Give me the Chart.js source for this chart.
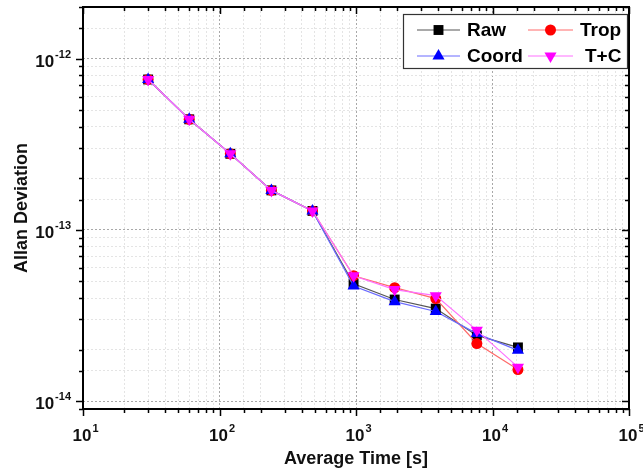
<!DOCTYPE html>
<html>
<head>
<meta charset="utf-8">
<script src="https://cdn.jsdelivr.net/npm/chart.js@4/dist/chart.umd.min.js"></script>
<style>
html, body { margin: 0; padding: 0; background: #fff; }
#wrap { width: 643px; height: 470px; }
</style>
</head>
<body>
<div id="wrap"><canvas id="myChart"></canvas></div>
<script>
// averaging times [s]
const avgTime = [30, 60, 120, 240, 480, 960, 1920, 3840, 7680, 15360];

// Allan deviation per solution
const rawDev   = [7.55e-13, 4.42e-13, 2.78e-13, 1.70e-13, 1.29e-13, 4.85e-14, 3.92e-14, 3.47e-14, 2.42e-14, 2.06e-14];
const tropDev  = [7.55e-13, 4.42e-13, 2.78e-13, 1.70e-13, 1.29e-13, 5.40e-14, 4.60e-14, 3.97e-14, 2.17e-14, 1.53e-14];
const coordDev = [7.55e-13, 4.42e-13, 2.78e-13, 1.70e-13, 1.29e-13, 4.70e-14, 3.81e-14, 3.34e-14, 2.48e-14, 1.98e-14];
const tcDev    = [7.55e-13, 4.42e-13, 2.78e-13, 1.70e-13, 1.29e-13, 5.40e-14, 4.48e-14, 4.13e-14, 2.59e-14, 1.58e-14];

const seriesNames = ['Raw', 'Trop', 'Coord', 'T+C'];

// decade tick labels
const xDecades = [1e1, 1e2, 1e3, 1e4, 1e5];
const yDecades = [1e-14, 1e-13, 1e-12];

const FONT = "'Liberation Sans', Arial, sans-serif";

function toPoints(vals) {
    return avgTime.map((t, i) => ({x: t, y: vals[i]}));
}

function isDecade(v) {
    const l = Math.log10(v);
    return Math.abs(l - Math.round(l)) < 1e-6;
}

function expOf(v) {
    return String(Math.round(Math.log10(v)));
}

// draws a marker like the dataset points (used for the legend)
function drawMarker(ctx, style, x, y, r, rot, color) {
    ctx.save();
    ctx.fillStyle = color;
    ctx.translate(x, y);
    ctx.rotate(rot * Math.PI / 180);
    ctx.beginPath();
    if (style === 'rect') {
        const s = r * Math.SQRT1_2;
        ctx.rect(-s, -s, 2 * s, 2 * s);
    } else if (style === 'circle') {
        ctx.arc(0, 0, r, 0, Math.PI * 2);
    } else {
        ctx.moveTo(0, -r);
        ctx.lineTo(r * 0.866, r * 0.5);
        ctx.lineTo(-r * 0.866, r * 0.5);
        ctx.closePath();
    }
    ctx.fill();
    ctx.restore();
}

const framePlugin = {
    id: 'frame',
    afterDraw(chart) {
        const ctx = chart.ctx;
        const a = chart.chartArea;
        const xs = chart.scales.x;
        const ys = chart.scales.y;
        ctx.save();

        // ticks: outside on left/bottom, inside on top/right
        ctx.strokeStyle = '#000';
        ctx.lineWidth = 1.5;
        ctx.beginPath();
        xs.ticks.forEach(t => {
            const px = Math.round(xs.getPixelForValue(t.value)) + 0.5;
            const len = isDecade(t.value) ? 7 : 4;
            ctx.moveTo(px, a.bottom); ctx.lineTo(px, a.bottom + len);
            ctx.moveTo(px, a.top); ctx.lineTo(px, a.top + len);
        });
        ys.ticks.forEach(t => {
            const py = Math.round(ys.getPixelForValue(t.value)) + 0.5;
            const len = isDecade(t.value) ? 7 : 4;
            ctx.moveTo(a.left, py); ctx.lineTo(a.left - len, py);
            ctx.moveTo(a.right, py); ctx.lineTo(a.right - len, py);
        });
        ctx.stroke();

        // frame
        ctx.lineWidth = 2;
        ctx.strokeRect(a.left, a.top, a.right - a.left, a.bottom - a.top);

        // tick labels with superscript exponents
        ctx.fillStyle = '#111';
        ctx.textBaseline = 'alphabetic';
        const big = 'bold 17px ' + FONT;
        const small = 'bold 11px ' + FONT;
        xDecades.forEach(v => {
            const px = xs.getPixelForValue(v);
            ctx.font = big;
            const w1 = ctx.measureText('10').width;
            ctx.font = small;
            const w2 = ctx.measureText(expOf(v)).width;
            const x0 = px - (w1 + w2) / 2 + 2;
            ctx.font = big;
            ctx.fillText('10', x0, 441);
            ctx.font = small;
            ctx.fillText(expOf(v), x0 + w1 + 1, 432);
        });
        yDecades.forEach(v => {
            const py = ys.getPixelForValue(v);
            ctx.font = small;
            const w2 = ctx.measureText(expOf(v)).width;
            ctx.font = big;
            const w1 = ctx.measureText('10').width;
            const xr = 71;
            ctx.fillText('10', xr - w2 - w1 - 1, py + 8);
            ctx.font = small;
            ctx.fillText(expOf(v), xr - w2, py - 1);
        });

        // legend box
        const lx = 403, ly = 14, lw = 224, lh = 54;
        ctx.fillStyle = '#fff';
        ctx.fillRect(lx, ly, lw, lh);
        ctx.strokeStyle = '#333';
        ctx.lineWidth = 1.2;
        ctx.strokeRect(lx + 0.5, ly + 0.5, lw, lh);

        const slots = [
            {x1: 417, x2: 460, tx: 467, y: 30},
            {x1: 528, x2: 573, tx: 580, y: 30},
            {x1: 417, x2: 460, tx: 467, y: 56},
            {x1: 528, x2: 573, tx: 585, y: 56}
        ];
        chart.data.datasets.forEach((ds, i) => {
            const s = slots[i];
            ctx.strokeStyle = ds.borderColor;
            ctx.lineWidth = 1;
            ctx.beginPath();
            ctx.moveTo(s.x1, s.y); ctx.lineTo(s.x2, s.y);
            ctx.stroke();
            drawMarker(ctx, ds.pointStyle, (s.x1 + s.x2) / 2, s.y, ds.pointRadius, ds.pointRotation || 0, ds.pointBackgroundColor);
            ctx.fillStyle = '#000';
            ctx.font = 'bold 19px ' + FONT;
            ctx.textBaseline = 'middle';
            ctx.fillText(ds.label, s.tx, s.y + 1);
        });
        ctx.restore();
    }
};

const chart = new Chart(document.getElementById('myChart').getContext('2d'), {
    type: 'line',
    data: {
        datasets: [{
            label: seriesNames[0],
            data: toPoints(rawDev),
            borderColor: '#555555',
            pointBackgroundColor: '#000000',
            pointBorderColor: '#000000',
            pointStyle: 'rect',
            pointRadius: 7,
            order: 4
        }, {
            label: seriesNames[1],
            data: toPoints(tropDev),
            borderColor: '#ff6a6a',
            pointBackgroundColor: '#ff0000',
            pointBorderColor: '#ff0000',
            pointStyle: 'circle',
            pointRadius: 5.5,
            order: 3
        }, {
            label: seriesNames[2],
            data: toPoints(coordDev),
            borderColor: '#6a6aff',
            pointBackgroundColor: '#0000ff',
            pointBorderColor: '#0000ff',
            pointStyle: 'triangle',
            pointRadius: 7,
            order: 2
        }, {
            label: seriesNames[3],
            data: toPoints(tcDev),
            borderColor: '#ff70ff',
            pointBackgroundColor: '#ff00ff',
            pointBorderColor: '#ff00ff',
            pointStyle: 'triangle',
            pointRotation: 180,
            pointRadius: 7,
            order: 1
        }]
    },
    options: {
        responsive: true,
        maintainAspectRatio: false,
        animation: false,
        layout: { padding: { top: 6, right: 14, left: 0, bottom: 0 } },
        elements: { line: { borderWidth: 1.2, tension: 0 }, point: { borderWidth: 0 } },
        plugins: {
            legend: { display: false },
            tooltip: { enabled: false }
        },
        scales: {
            x: {
                type: 'logarithmic',
                min: 10,
                max: 1e5,
                afterFit: s => { s.height = 61; },
                ticks: { display: false },
                grid: {
                    drawTicks: false,
                    color: c => (c.tick && isDecade(c.tick.value)) ? '#a8a8a8' : '#e4e4e4',
                    lineWidth: 1
                },
                border: { display: false, dash: [2, 2] },
                title: {
                    display: true,
                    text: 'Average Time [s]',
                    color: '#111',
                    font: { family: FONT, size: 18, weight: 'bold' },
                    padding: { top: 4, bottom: 0 }
                }
            },
            y: {
                type: 'logarithmic',
                min: 9e-15,
                max: 2e-12,
                afterFit: s => { s.width = 83; },
                ticks: { display: false },
                grid: {
                    drawTicks: false,
                    color: c => (c.tick && isDecade(c.tick.value)) ? '#a8a8a8' : '#e4e4e4',
                    lineWidth: 1
                },
                border: { display: false, dash: [2, 2] },
                title: {
                    display: true,
                    text: 'Allan Deviation',
                    color: '#111',
                    font: { family: FONT, size: 18, weight: 'bold' },
                    padding: { top: 11, bottom: 0 }
                }
            }
        }
    },
    plugins: [framePlugin]
});
</script>
</body>
</html>
